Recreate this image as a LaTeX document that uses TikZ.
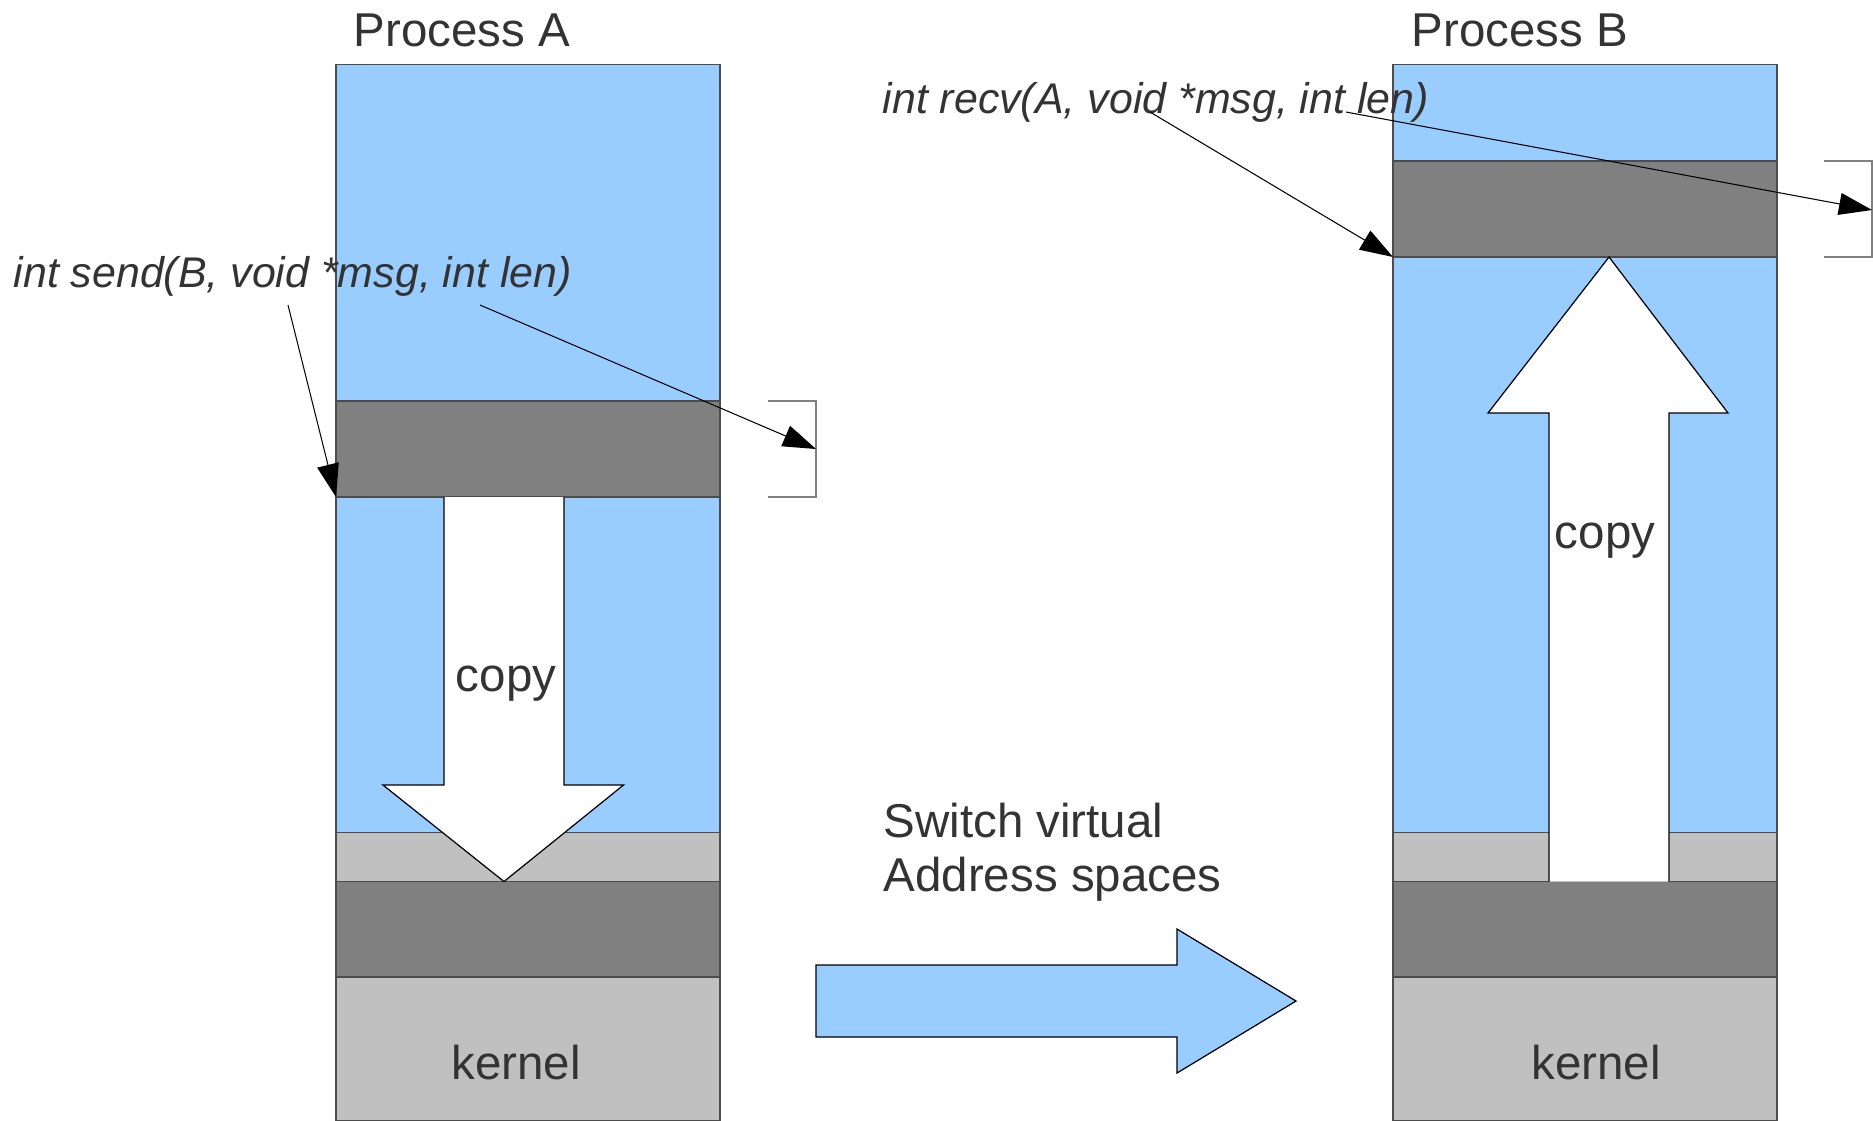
\documentclass[tikz,border=0pt]{standalone}
\usepackage{fontspec}
\setmainfont{Liberation Sans}
\usetikzlibrary{arrows.meta}
\definecolor{userblue}{HTML}{99CCFF}
\definecolor{bufgray}{HTML}{808080}
\definecolor{kerngray}{HTML}{C0C0C0}
\definecolor{labelgray}{HTML}{333333}
\tikzset{
  layer/.style={draw=black!70,line width=0.35pt},
  fatarrow/.style={draw=black,line width=0.35pt},
  pointer/.style={black,line width=0.3pt,-{Triangle[length=0.33cm,width=0.22cm]}},
  bracket/.style={black!50,line width=0.5pt},
  caption/.style={text=labelgray,inner sep=0pt,font=\fontsize{13.5}{15.3}\selectfont},
  callsig/.style={text=labelgray,inner sep=0pt,font=\fontsize{12.2}{14}\selectfont\itshape},
}
\begin{document}
\begin{tikzpicture}[x=0.01cm,y=-0.01cm]
  \useasboundingbox (0,0) rectangle (1873,1120);
  % shared kernel part of both address spaces
  \foreach \left in {336,1393} {
    \draw [layer,fill=kerngray] (\left,832.6) rectangle (\left+384,881.5);
    \draw [layer,fill=bufgray] (\left,881.5) rectangle (\left+384,977);
    \draw [layer,fill=kerngray] (\left,977) rectangle (\left+384,1121);
  }
  % process A: user part with message buffer low down
  \draw [layer,fill=userblue] (336,64.5) rectangle (720,401);
  \draw [layer,fill=bufgray] (336,401) rectangle (720,497);
  \draw [layer,fill=userblue] (336,497) rectangle (720,832.6);
  % process B: buffer near the top
  \draw [layer,fill=userblue] (1393,64.5) rectangle (1777,161);
  \draw [layer,fill=bufgray] (1393,161) rectangle (1777,257);
  \draw [layer,fill=userblue] (1393,257) rectangle (1777,832.6);
  \coordinate (bufA) at (336,497);
  \coordinate (bufB) at (1393,257);
  % copy arrows
  \draw [fatarrow,fill=white] (444,497) -- (444,785) -- (383,785) -- (504,881.5)
    -- (623.5,785) -- (564,785) -- (564,497);
  \draw [fatarrow,fill=white] (1549,881.5) -- (1549,413) -- (1488,413) -- (1609,257)
    -- (1728,413) -- (1669,413) -- (1669,881.5);
  % brackets marking len
  \draw [bracket] (768,401) -- (816,401) -- (816,497) -- (768,497);
  \draw [bracket] (1824,161) -- (1872,161) -- (1872,257) -- (1824,257);
  \coordinate (lenA) at (816,449);
  \coordinate (lenB) at (1872,210);
  % address space switch
  \draw [fatarrow,fill=userblue] (816,965) -- (1177,965) -- (1177,929) -- (1296,1001)
    -- (1177,1073) -- (1177,1037) -- (816,1037) -- cycle;
  % labels
  \node [caption] (procA) at (462,30) {Process A};
  \node [caption] (procB) at (1520,30) {Process B};
  \node [caption] (copyA) at (506,684) {copy};
  \node [caption] (copyB) at (1605,541) {copy};
  \node [caption] (kernA) at (516,1063) {kernel};
  \node [caption] (kernB) at (1596,1063) {kernel};
  \node [caption,anchor=west,align=left] (switch) at (883,852) {Switch virtual\\Address spaces};
  \node [callsig,anchor=west] (send) at (13,276) {int send(B, void *msg, int len)};
  \node [callsig,anchor=west] (recv) at (882,102) {int recv(A, void *msg, int len)};
  \coordinate (sendMsg) at (288,305);
  \coordinate (sendLen) at (480,305);
  \coordinate (recvMsg) at (1150,112);
  \coordinate (recvLen) at (1346,112);
  \draw [pointer] (sendMsg) -- (bufA);
  \draw [pointer] (sendLen) -- (lenA);
  \draw [pointer] (recvMsg) -- (bufB);
  \draw [pointer] (recvLen) -- (lenB);
\end{tikzpicture}
\end{document}
